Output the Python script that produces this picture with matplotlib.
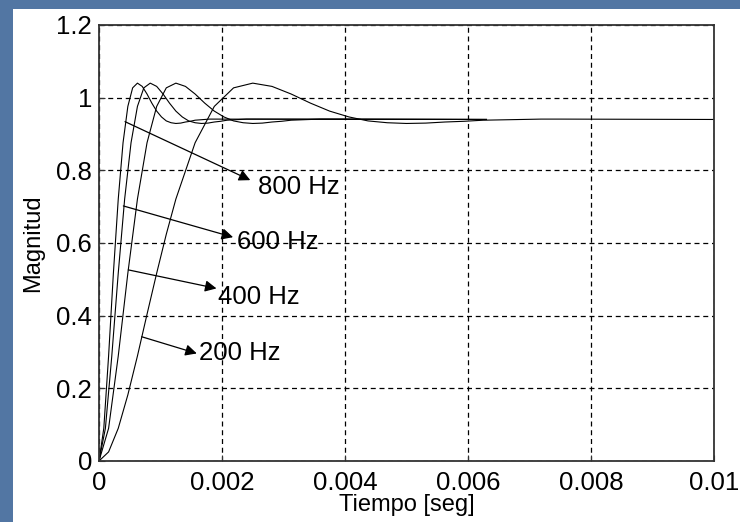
import matplotlib.pyplot as plt
from matplotlib.patches import Rectangle

plt.rcParams['font.family'] = ['Liberation Sans', 'DejaVu Sans']

# step response values (same shape for every curve, time scaled)
mag_pts = [0.0, 0.090, 0.289, 0.517, 0.721, 0.876, 0.976, 1.027, 1.040, 1.031,
           1.010, 0.985, 0.963, 0.947, 0.936, 0.931, 0.929, 0.930, 0.933, 0.935,
           0.938, 0.939, 0.940, 0.941, 0.941]

# 200 Hz is wider on screen, so its rise is read more finely
t_200 = [0.0, 0.000156, 0.000313, 0.000469, 0.000625, 0.000781, 0.000938, 0.001094,
         0.00125, 0.001563, 0.001875, 0.002188,
         0.0025, 0.002813, 0.003125, 0.003438, 0.00375, 0.004063, 0.004375, 0.004688,
         0.005, 0.005313, 0.005625, 0.005938, 0.00625, 0.006563, 0.006875, 0.007188,
         0.0075, 0.01]
y_200 = [0.0, 0.025, 0.090, 0.182, 0.289, 0.404, 0.517, 0.624, 0.721, 0.876, 0.976, 1.027,
         1.040, 1.031, 1.010, 0.985, 0.963, 0.947, 0.936, 0.931, 0.929, 0.930, 0.933, 0.935,
         0.938, 0.939, 0.940, 0.941, 0.941, 0.940]

t_400 = [0.0, 0.000156, 0.000313, 0.000469, 0.000625, 0.000781, 0.000938, 0.001094,
         0.00125, 0.001406, 0.001563, 0.001719, 0.001875, 0.002031, 0.002188, 0.002344,
         0.0025, 0.002656, 0.002813, 0.002969, 0.003125, 0.003281, 0.003438, 0.003594,
         0.00375, 0.0063]
y_400 = mag_pts + [0.940]

t_600 = [0.0, 0.000104, 0.000208, 0.000313, 0.000417, 0.000521, 0.000625, 0.000729,
         0.000833, 0.000938, 0.001042, 0.001146, 0.00125, 0.001354, 0.001458, 0.001563,
         0.001667, 0.001771, 0.001875, 0.001979, 0.002083, 0.002188, 0.002292, 0.002396,
         0.0025, 0.0063]
y_600 = mag_pts + [0.940]

t_800 = [0.0, 0.000078, 0.000156, 0.000234, 0.000313, 0.000391, 0.000469, 0.000547,
         0.000625, 0.000703, 0.000781, 0.000859, 0.000938, 0.001016, 0.001094, 0.001172,
         0.00125, 0.001328, 0.001406, 0.001484, 0.001563, 0.001641, 0.001719, 0.001797,
         0.001875, 0.0063]
y_800 = mag_pts + [0.940]

# annotations: label, arrow start (on curve), arrow tip, text anchor
labels = ['800 Hz', '600 Hz', '400 Hz', '200 Hz']
arrow_from = [(0.000423, 0.934), (0.000396, 0.702), (0.000477, 0.526), (0.000694, 0.342)]
arrow_to = [(0.00246, 0.773), (0.00218, 0.616), (0.00191, 0.475), (0.00159, 0.296)]
text_at = [(0.00258, 0.755), (0.00224, 0.604), (0.00193, 0.452), (0.00163, 0.296)]

xticks = [0, 0.002, 0.004, 0.006, 0.008, 0.01]
xtick_labels = ['0', '0.002', '0.004', '0.006', '0.008', '0.01']
yticks = [0, 0.2, 0.4, 0.6, 0.8, 1.0, 1.2]
ytick_labels = ['0', '0.2', '0.4', '0.6', '0.8', '1', '1.2']

fig = plt.figure(figsize=(7.4, 5.22), dpi=100)
fig.patch.set_facecolor('#5276a3')
# white slide panel behind the axes
fig.add_artist(Rectangle((13 / 740, 0), 1, (522 - 9) / 522, transform=fig.transFigure,
                         facecolor='white', edgecolor='none', zorder=-10))

ax = fig.add_axes([99 / 740, 61 / 522, 615 / 740, 436 / 522])
ax.set_facecolor('white')

for t, y in [(t_200, y_200), (t_400, y_400), (t_600, y_600), (t_800, y_800)]:
    ax.plot(t, y, color='black', linewidth=0.8)

for lab, p0, p1, pt in zip(labels, arrow_from, arrow_to, text_at):
    ax.annotate('', xy=p1, xytext=p0,
                arrowprops=dict(arrowstyle='-|>', color='black', lw=0.9,
                                shrinkA=0, shrinkB=0, mutation_scale=17))
    ax.text(pt[0], pt[1], lab, fontsize=18.5, ha='left', va='center')

ax.set_xlim(0, 0.01)
ax.set_ylim(0, 1.2)
ax.set_xticks(xticks)
ax.set_xticklabels(xtick_labels)
ax.set_yticks(yticks)
ax.set_yticklabels(ytick_labels)
ax.tick_params(direction='in', length=4, labelsize=18.5, color='#333333')
ax.tick_params(axis='x', pad=7)
ax.tick_params(axis='y', pad=5)

ax.grid(True, linestyle=(0, (4, 3)), color='black', linewidth=0.9)
for s in ax.spines.values():
    s.set_color('#333333')
    s.set_linewidth(1.3)

ax.set_xlabel('Tiempo [seg]', fontsize=17, va='center')
ax.xaxis.set_label_coords(0.5, -0.101)
ax.set_ylabel('Magnitud', fontsize=17, va='center')
ax.yaxis.set_label_coords(-0.107, 0.5)

fig.savefig('out.png', dpi=100, facecolor=fig.get_facecolor())
